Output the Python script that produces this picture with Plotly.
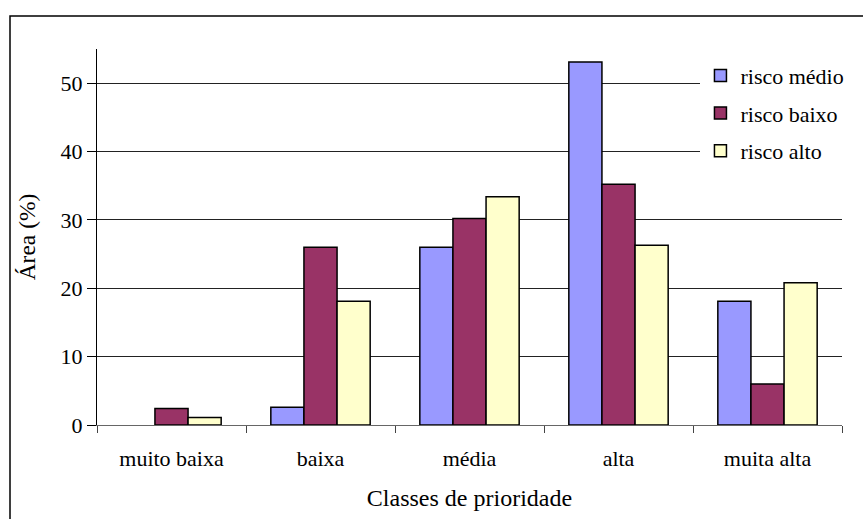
import plotly.graph_objects as go

categories = ["muito baixa", "baixa", "média", "alta", "muita alta"]
risco_medio = [0, 2.6, 26.0, 53.1, 18.1]
risco_baixo = [2.4, 26.0, 30.2, 35.2, 6.0]
risco_alto = [1.1, 18.1, 33.4, 26.3, 20.8]
y_ticks = [0, 10, 20, 30, 40, 50]

series = [
    ("risco médio", risco_medio, "#9999FF"),
    ("risco baixo", risco_baixo, "#993366"),
    ("risco alto", risco_alto, "#FFFFCC"),
]

SERIF = "Liberation Serif"


def serif(size=22):
    return dict(family=SERIF, size=size, color="black")


fig = go.Figure()
for i, (name, vals, color) in enumerate(series):
    # a zero share is left empty rather than drawn as a flat outline
    shown = [v if v else None for v in vals]
    fig.add_trace(go.Bar(
        x=categories, y=shown, name=name,
        marker=dict(color=color, line=dict(color="black", width=1.5)),
        legendgroup=f"g{i}",
    ))

fig.update_layout(
    width=863, height=519,
    margin=dict(l=97, r=21, t=49, b=94),
    paper_bgcolor="white", plot_bgcolor="white",
    barmode="group", bargap=1.5 / 4.5, bargroupgap=0,
    font=serif(),
    showlegend=True,
    legend=dict(
        x=0.81, y=0.985, xanchor="left", yanchor="top",
        bgcolor="white", borderwidth=0,
        traceorder="grouped", tracegroupgap=6,
        font=serif(),
        itemwidth=30,
    ),
    xaxis=dict(
        type="category", showgrid=False,
        showline=True, linecolor="#666666", linewidth=1,
        ticks="outside", tickson="boundaries", ticklen=7,
        tickcolor="#444444", tickwidth=1,
        ticklabelstandoff=14,
        title=dict(text="Classes de prioridade", standoff=18, font=serif(24)),
        tickfont=serif(),
    ),
    yaxis=dict(
        range=[0, 55], tickvals=y_ticks,
        showgrid=True, gridcolor="#222222", gridwidth=1,
        showline=True, linecolor="black", linewidth=1,
        ticks="outside", ticklen=9, tickcolor="black",
        zeroline=False,
        title=dict(text="Área (%)", standoff=18, font=serif(23.5)),
        tickfont=serif(),
    ),
    shapes=[dict(
        type="rect", xref="paper", yref="paper",
        x0=(10 - 97) / 745, x1=1.2,
        y0=-0.5, y1=(425 - 16) / 376,
        line=dict(color="black", width=1.5), fillcolor="rgba(0,0,0,0)",
        layer="below",
    )],
)

fig.write_html("out.html")
